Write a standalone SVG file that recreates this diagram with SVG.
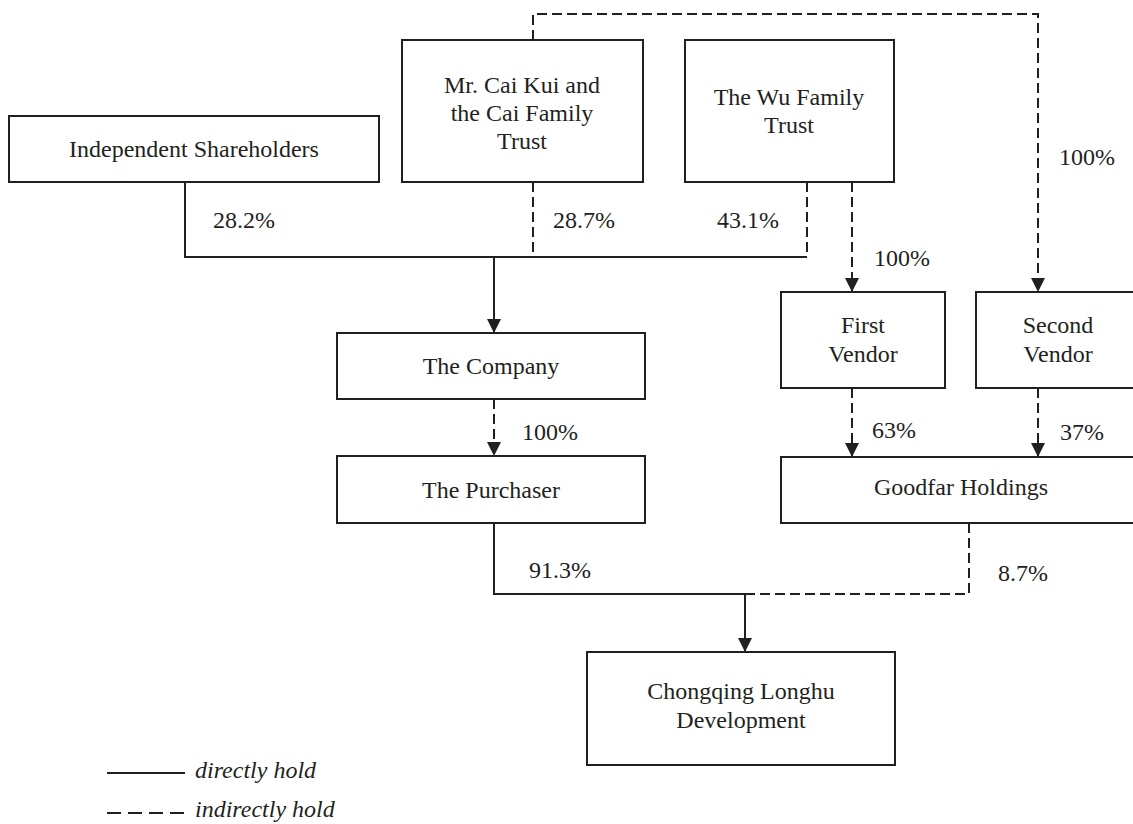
<svg xmlns="http://www.w3.org/2000/svg" width="1133" height="824" viewBox="0 0 1133 824">
<style>
.box{fill:#fff;stroke:#231f20;stroke-width:2}
.t{font-family:"Liberation Serif","Times New Roman",serif;font-size:24px;fill:#231f20}
.m{text-anchor:middle}
.it{font-style:italic}
.ln{fill:none;stroke:#231f20;stroke-width:2}
.d{stroke-dasharray:10,5}
.ld{stroke-dasharray:14,7}
</style>
<defs>
<marker id="arr" viewBox="0 0 14 14" refX="14" refY="7" markerWidth="14" markerHeight="14" markerUnits="userSpaceOnUse" orient="auto">
<path d="M0,0 L14,7 L0,14 Z" fill="#231f20"/>
</marker>
</defs>
<rect width="1133" height="824" fill="#fff"/>
<g id="connectors">
<polyline class="ln" points="185,182 185,257 807,257"/>
<line class="ln d" x1="533" y1="182" x2="533" y2="257"/>
<line class="ln d" x1="807" y1="182" x2="807" y2="257"/>
<line class="ln" x1="494" y1="257" x2="494" y2="333" marker-end="url(#arr)"/>
<polyline class="ln d" points="533,40 533,14 1038,14 1038,292" marker-end="url(#arr)"/>
<line class="ln d" x1="852" y1="182" x2="852" y2="292" marker-end="url(#arr)"/>
<line class="ln d" x1="494" y1="399" x2="494" y2="456" marker-end="url(#arr)"/>
<line class="ln d" x1="852" y1="388" x2="852" y2="457" marker-end="url(#arr)"/>
<line class="ln d" x1="1038" y1="388" x2="1038" y2="457" marker-end="url(#arr)"/>
<polyline class="ln" points="494,523 494,594 745,594"/>
<polyline class="ln d" points="745,594 969,594 969,523"/>
<line class="ln" x1="745" y1="594" x2="745" y2="652" marker-end="url(#arr)"/>
<text class="t" x="213" y="228">28.2%</text>
<text class="t" x="553" y="228">28.7%</text>
<text class="t" x="717" y="228">43.1%</text>
<text class="t" x="1059" y="165">100%</text>
<text class="t" x="874" y="266">100%</text>
<text class="t" x="522" y="440">100%</text>
<text class="t" x="872" y="438">63%</text>
<text class="t" x="1060" y="440">37%</text>
<text class="t" x="529" y="578">91.3%</text>
<text class="t" x="998" y="581">8.7%</text>
</g>
<g id="independent">
<rect class="box" x="9" y="116" width="370" height="66"/>
<text class="t m" x="194" y="157">Independent Shareholders</text>
</g>
<g id="cai">
<rect class="box" x="402" y="40" width="241" height="142"/>
<text class="t m" x="522" y="93">Mr. Cai Kui and</text>
<text class="t m" x="522" y="121">the Cai Family</text>
<text class="t m" x="522" y="149">Trust</text>
</g>
<g id="wu">
<rect class="box" x="685" y="40" width="209" height="142"/>
<text class="t m" x="789" y="105">The Wu Family</text>
<text class="t m" x="789" y="133">Trust</text>
</g>
<g id="first-vendor">
<rect class="box" x="781" y="292" width="164" height="96"/>
<text class="t m" x="863" y="333">First</text>
<text class="t m" x="863" y="362">Vendor</text>
</g>
<g id="second-vendor">
<rect class="box" x="976" y="292" width="164" height="96"/>
<text class="t m" x="1058" y="333">Second</text>
<text class="t m" x="1058" y="362">Vendor</text>
</g>
<g id="company">
<rect class="box" x="337" y="333" width="308" height="66"/>
<text class="t m" x="491" y="374">The Company</text>
</g>
<g id="purchaser">
<rect class="box" x="337" y="456" width="308" height="67"/>
<text class="t m" x="491" y="498">The Purchaser</text>
</g>
<g id="goodfar">
<rect class="box" x="781" y="457" width="360" height="66"/>
<text class="t m" x="961" y="495">Goodfar Holdings</text>
</g>
<g id="chongqing">
<rect class="box" x="587" y="652" width="308" height="113"/>
<text class="t m" x="741" y="699">Chongqing Longhu</text>
<text class="t m" x="741" y="728">Development</text>
</g>
<g id="legend">
<line class="ln" x1="107" y1="773" x2="185" y2="773"/>
<text class="t it" x="195" y="778">directly hold</text>
<line class="ln ld" x1="107" y1="813" x2="184" y2="813"/>
<text class="t it" x="195" y="817">indirectly hold</text>
</g>
</svg>
